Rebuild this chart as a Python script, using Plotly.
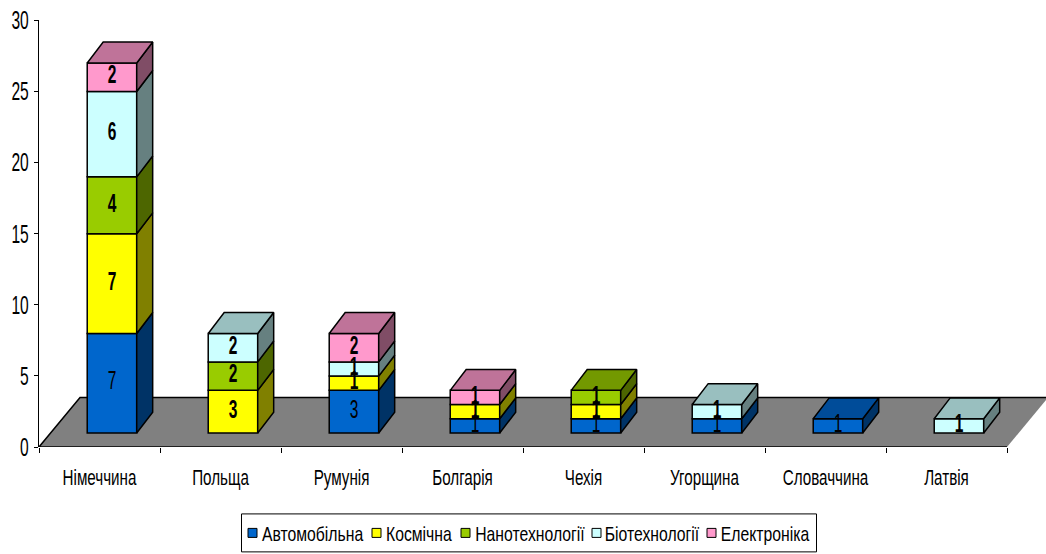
import plotly.graph_objects as go

# Companies by country and industry
categories = ["Німеччина", "Польща", "Румунія", "Болгарія", "Чехія", "Угорщина", "Словаччина", "Латвія"]
series_names = ["Автомобільна", "Космічна", "Нанотехнології", "Біотехнології", "Електроніка"]
avto = [7, 0, 3, 1, 1, 1, 1, 0]
kosmos = [7, 3, 1, 1, 1, 0, 0, 0]
nano = [4, 2, 0, 0, 1, 0, 0, 0]
bio = [6, 2, 1, 0, 0, 1, 0, 1]
elektro = [2, 0, 2, 1, 0, 0, 0, 0]
series_values = [avto, kosmos, nano, bio, elektro]

front_colors = ["#0066CC", "#FFFF00", "#99CC00", "#CCFFFF", "#FF99CC"]
side_colors = ["#003366", "#808000", "#4D6600", "#668080", "#804D66"]
top_colors = ["#004C99", "#BFBF00", "#739900", "#99BFBF", "#BF7399"]

FONT = "Liberation Sans, Arial, sans-serif"

# Oblique projection of the depth axis, in data units
FLOOR_DX, FLOOR_DY = 0.339, 3.47
BAR_DX, BAR_DY = 0.132, 1.47
BAR_LIFT = 0.98
BAR_SHIFT = 0.103
BAR_WIDTH = 0.409

fig = go.Figure()
running = [BAR_LIFT] * len(categories)
sides, tops, labels = [], [], []
centres = [i + 0.5 + BAR_SHIFT for i in range(len(categories))]
totals = [sum(col) for col in zip(*series_values)]

for s, values in enumerate(series_values):
    idx = [i for i, v in enumerate(values) if v > 0]
    bases = [running[i] for i in idx]
    fig.add_trace(go.Bar(
        x=[centres[i] for i in idx], y=[values[i] for i in idx], base=bases,
        width=BAR_WIDTH, name=series_names[s],
        marker=dict(color=front_colors[s], line=dict(color="black", width=1.5)),
    ))
    side_x, side_y, top_x, top_y = [], [], [], []
    for i in idx:
        lo = running[i]
        hi = lo + values[i]
        r = centres[i] + BAR_WIDTH / 2
        l = centres[i] - BAR_WIDTH / 2
        side_x += [r, r + BAR_DX, r + BAR_DX, r, r, None]
        side_y += [lo, lo + BAR_DY, hi + BAR_DY, hi, lo, None]
        running[i] = hi
        if abs(hi - BAR_LIFT - totals[i]) < 1e-9:
            top_x += [l, l + BAR_DX, r + BAR_DX, r, l, None]
            top_y += [hi, hi + BAR_DY, hi + BAR_DY, hi, hi, None]
    sides.append((side_x, side_y, side_colors[s]))
    if top_x:
        tops.append((top_x, top_y, top_colors[s]))
    labels.append((
        [centres[i] for i in idx],
        [b + values[i] / 2 for b, i in zip(bases, idx)],
        [str(values[i]) for i in idx],
        "normal" if s == 0 else "bold",
    ))

# Side and top faces of the blocks
for px, py, colour in sides + tops:
    fig.add_trace(go.Scatter(
        x=px, y=py, mode="lines", fill="toself", fillcolor=colour,
        line=dict(color="black", width=1.5), hoverinfo="skip",
    ))

# Value labels centred on each block
for lx, ly, lt, weight in labels:
    fig.add_trace(go.Scatter(
        x=lx, y=ly, mode="text", text=lt, textposition="middle center",
        textfont=dict(family=FONT, size=25, color="black", weight=weight),
        hoverinfo="skip",
    ))

n = len(categories)
floor_fill = (f"M0,0 L{n},0 L{n + FLOOR_DX},{FLOOR_DY} L{FLOOR_DX},{FLOOR_DY} Z")
floor_edge = (f"M{n + FLOOR_DX},{FLOOR_DY} L{FLOOR_DX},{FLOOR_DY} L0,0 L{n},0")
shapes = [
    dict(type="path", path=floor_fill, xref="x", yref="y", layer="below",
         fillcolor="#808080", line=dict(width=0)),
    dict(type="path", path=floor_edge, xref="x", yref="y", layer="below",
         line=dict(color="black", width=1.5)),
]

# Compact legend box below the plot
W, H = 1046, 554
L, R, T, B = 39, 0, 20, 106.5
pw, ph = W - L - R, H - T - B


def paper_x(px):
    return (px - L) / pw


def paper_y(py):
    return (H - B - py) / ph


shapes.append(dict(type="rect", xref="paper", yref="paper",
                   x0=paper_x(241.5), x1=paper_x(816.5), y0=paper_y(552.5), y1=paper_y(514.5),
                   fillcolor="white", line=dict(color="black", width=1)))
swatch_left = [248, 372, 461, 592, 707]
text_centre = [312, 419, 529.5, 651.5, 764.5]
annotations = []
for s, name in enumerate(series_names):
    shapes.append(dict(type="rect", xref="paper", yref="paper",
                       x0=paper_x(swatch_left[s]), x1=paper_x(swatch_left[s] + 9),
                       y0=paper_y(538), y1=paper_y(529),
                       fillcolor=front_colors[s], line=dict(color="black", width=1)))
    annotations.append(dict(
        text=name, xref="paper", yref="paper", x=paper_x(text_centre[s]), y=paper_y(534),
        xanchor="center", yanchor="middle", showarrow=False, borderpad=0, borderwidth=0,
        font=dict(family=FONT, size=21, color="black"),
    ))

fig.update_layout(
    width=W, height=H, margin=dict(l=L, r=R, t=T, b=B, pad=0),
    paper_bgcolor="white", plot_bgcolor="white",
    barmode="overlay", showlegend=False, hovermode=False,
    shapes=shapes, annotations=annotations,
    font=dict(family=FONT, color="black"),
    xaxis=dict(
        range=[0, pw / 121], showgrid=False, zeroline=False, showline=False,
        tickmode="array", tickvals=[i + 0.5 for i in range(n)], ticktext=categories,
        ticks="", tickfont=dict(family=FONT, size=22), ticklabelstandoff=15,
        minor=dict(tickmode="array", tickvals=list(range(n + 1)), ticks="outside",
                   ticklen=5, tickcolor="black", tickwidth=1, showgrid=False),
    ),
    yaxis=dict(
        range=[0, 30], showgrid=False, zeroline=False, showline=True,
        linecolor="black", linewidth=1, ticks="outside", ticklen=4, tickcolor="black",
        tickvals=[0, 5, 10, 15, 20, 25, 30], tickfont=dict(family=FONT, size=26),
        ticklabelstandoff=0,
    ),
)

# Narrow the glyphs horizontally: no condensed face of this family is installed
condense = """
var rules = [['.ytick text', 0.60], ['.xtick text', 0.69],
             ['.annotation-text', 0.75], ['.textpoint text', 0.62]];
rules.forEach(function (rule) {
  document.querySelectorAll(rule[0]).forEach(function (t) {
    t.setAttribute('textLength', t.getComputedTextLength() * rule[1]);
    t.setAttribute('lengthAdjust', 'spacingAndGlyphs');
  });
});
"""
fig.write_html("out.html", config=dict(displayModeBar=False), post_script=condense)
